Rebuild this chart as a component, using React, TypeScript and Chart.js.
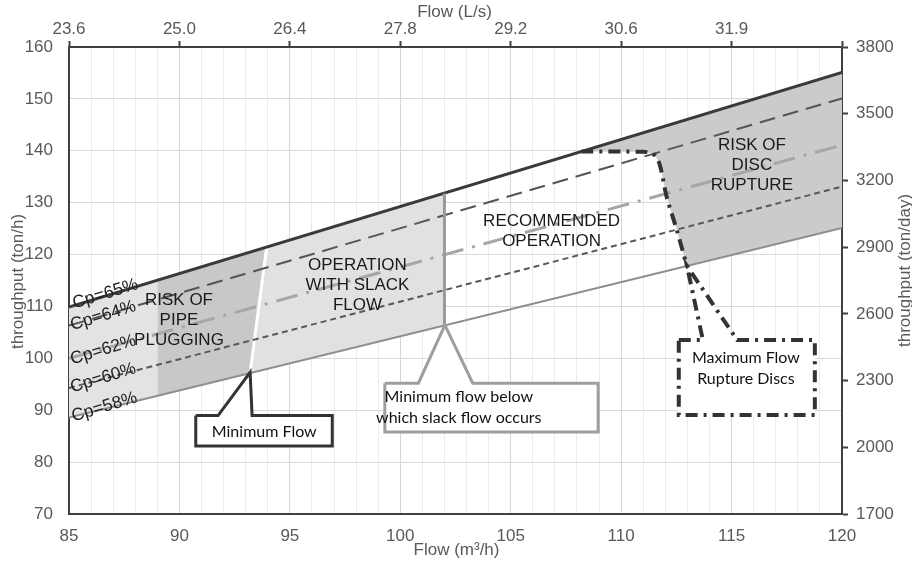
import React, { useEffect, useRef } from 'react';
import { Chart, registerables } from 'chart.js';

Chart.register(...registerables);

// ---- Axis ticks ----
const xTickLabels = [85, 90, 95, 100, 105, 110, 115, 120];
const topTickLabels = ['23.6', '25.0', '26.4', '27.8', '29.2', '30.6', '31.9', ''];

// ---- Cp lines (flow m3/h -> throughput t/h) ----
const flowRange = [85, 120];
const cp65 = [109.9, 155.1];
const cp64 = [106.3, 150.1];
const cp62 = [100.0, 141.1];
const cp60 = [94.3, 133.1];
const cp58 = [88.6, 125.1];

const cpLabels = ['Cp=65%', 'Cp=64%', 'Cp=62%', 'Cp=60%', 'Cp=58%'];
const cpLabelFlow = [86.65, 86.55, 86.55, 86.55, 86.6];
const cpLabelY = [112.4, 108.2, 101.6, 96.2, 90.6];

// ---- Boundaries ----
const minFlowX = [93.2, 93.95];
const minFlowY = [97.2, 121.4];
const slackX = [102, 102];
const slackY = [106.3, 131.8];
const ruptureX = [108.2, 111.0, 111.4, 111.65, 111.8, 112.06, 112.52, 112.97];
const ruptureY = [139.85, 139.8, 139.5, 138.4, 136.5, 131.15, 124.73, 117.9];

// ---- Shaded regions ----
const patchX = [85, 89, 89, 85];
const patchY = [88.6, 92.8, 115.0, 109.9];
const pluggingX = [89, 93.2, 93.95, 89];
const pluggingY = [92.8, 97.2, 121.4, 115.0];
const slackRegX = [93.2, 102, 102, 93.95];
const slackRegY = [97.2, 106.3, 131.8, 121.4];
const ruptRegX = [108.2, 120, 120, 112.97, 112.52, 112.06, 111.8, 111.65, 111.4, 111.0];
const ruptRegY = [139.85, 155.1, 125.1, 117.9, 124.73, 131.15, 136.5, 138.4, 139.5, 139.8];

// ---- Callouts ----
const minCalloutX = [90.74, 91.75, 93.2, 93.29, 96.92, 96.92, 90.74];
const minCalloutY = [88.96, 88.96, 97.3, 88.96, 88.96, 83.1, 83.1];
const slackCalloutX = [99.3, 100.82, 102.02, 103.28, 108.96, 108.96, 99.3];
const slackCalloutY = [95.2, 95.2, 106.4, 95.2, 95.2, 85.8, 85.8];
const ruptCalloutX = [112.61, 113.7, 112.98, 115.25, 118.77, 118.77, 112.61];
const ruptCalloutY = [103.55, 103.55, 117.8, 103.55, 103.55, 89.1, 89.1];

const calloutTexts = [
  ['Minimum Flow'],
  ['Minimum flow below', 'which slack flow occurs'],
  ['Maximum Flow', 'Rupture Discs'],
];
const calloutTextFlow = [93.84, 102.65, 115.65];
const calloutTextY = [85.9, 90.55, 98.0];

// ---- Region labels ----
const regionLabels = [
  ['RISK OF', 'PIPE', 'PLUGGING'],
  ['OPERATION', 'WITH SLACK', 'FLOW'],
  ['RECOMMENDED', 'OPERATION'],
  ['RISK OF', 'DISC', 'RUPTURE'],
];
const regionLabelFlow = [89.98, 98.06, 106.85, 115.92];
const regionLabelY = [107.4, 114.0, 124.4, 137.2];

const FONT = '"Liberation Sans", Arial, sans-serif';
const AXIS_COLOR = '#595959';

function pts(xs: number[], ys: number[], close = false) {
  const d = xs.map((x, i) => ({ x, y: ys[i] }));
  if (close) d.push({ ...d[0] });
  return d;
}

const base = { pointRadius: 0, pointHoverRadius: 0, tension: 0, xAxisID: 'x', yAxisID: 'y' };

function region(xs: number[], ys: number[], color: string, order: number) {
  return {
    ...base,
    data: pts(xs, ys, true),
    fill: 'shape',
    backgroundColor: color,
    borderColor: 'rgba(0,0,0,0)',
    borderWidth: 0,
    order,
  };
}

function line(xs: number[], ys: number[], color: string, width: number, dash: number[], order: number) {
  return {
    ...base,
    data: pts(xs, ys),
    fill: false,
    borderColor: color,
    borderWidth: width,
    borderDash: dash,
    borderCapStyle: 'butt',
    order,
  };
}

function callout(xs: number[], ys: number[], color: string, width: number, dash: number[]) {
  return {
    ...base,
    data: pts(xs, ys, true),
    fill: 'shape',
    backgroundColor: '#ffffff',
    borderColor: color,
    borderWidth: width,
    borderDash: dash,
    borderJoinStyle: 'miter',
    order: 0,
  };
}

const textPlugin = {
  id: 'textPlugin',
  afterDatasetsDraw(chart: any) {
    const { ctx, scales } = chart;
    const px = (v: number) => scales.x.getPixelForValue(v);
    const py = (v: number) => scales.y.getPixelForValue(v);
    ctx.save();
    ctx.textAlign = 'center';
    ctx.textBaseline = 'middle';
    ctx.fillStyle = '#1a1a1a';
    ctx.font = `17px ${FONT}`;
    regionLabels.forEach((lines, i) => {
      const cx = px(regionLabelFlow[i]);
      const cy = py(regionLabelY[i]);
      lines.forEach((t, j) => ctx.fillText(t, cx, cy + (j - (lines.length - 1) / 2) * 20));
    });
    ctx.fillStyle = '#222';
    ctx.font = `17.5px ${FONT}`;
    cpLabels.forEach((t, i) => {
      ctx.save();
      ctx.translate(px(cpLabelFlow[i]), py(cpLabelY[i]));
      ctx.rotate((-17 * Math.PI) / 180);
      ctx.fillText(t, 0, 0);
      ctx.restore();
    });
    ctx.fillStyle = '#111';
    ctx.font = `16px Lato, "Open Sans", sans-serif`;
    calloutTexts.forEach((lines, i) => {
      const cx = px(calloutTextFlow[i]);
      const cy = py(calloutTextY[i]);
      lines.forEach((t, j) => ctx.fillText(t, cx, cy + (j - (lines.length - 1) / 2) * 21));
    });
    ctx.restore();
  },
  afterDraw(chart: any) {
    const { ctx, chartArea } = chart;
    const { left, right, top, bottom } = chartArea;
    ctx.save();
    ctx.fillStyle = AXIS_COLOR;
    ctx.font = `17px ${FONT}`;
    ctx.textAlign = 'center';
    ctx.textBaseline = 'middle';
    ctx.fillText('Flow (m³/h)', (left + right) / 2 + 1, bottom + 36);
    ctx.fillText('Flow (L/s)', (left + right) / 2 - 1, top - 35);
    ctx.save();
    ctx.translate(left - 51, (top + bottom) / 2 + 1);
    ctx.rotate(-Math.PI / 2);
    ctx.fillText('throughput (ton/h)', 0, 0);
    ctx.restore();
    ctx.save();
    ctx.translate(right + 63, (top + bottom) / 2 - 10);
    ctx.rotate(-Math.PI / 2);
    ctx.fillText('throughput (ton/day)', 0, 0);
    ctx.restore();
    ctx.restore();
  },
};

const tickFont = { family: FONT, size: 17 };

export default function App() {
  const ref = useRef<HTMLCanvasElement>(null);
  useEffect(() => {
    if (!ref.current) return;
    const chart = new Chart(ref.current, {
      type: 'line',
      data: {
        datasets: [
          region(patchX, patchY, '#e3e3e3', 20),
          region(pluggingX, pluggingY, '#c8c8c8', 20),
          region(slackRegX, slackRegY, '#e1e1e1', 20),
          region(ruptRegX, ruptRegY, '#cbcbcb', 20),
          line(minFlowX, minFlowY, '#ffffff', 3, [], 8),
          line(flowRange, cp58, '#8e8e8e', 2, [], 5),
          line(flowRange, cp60, '#595959', 2, [6, 4], 5),
          line(flowRange, cp62, '#a6a6a6', 3, [22, 9, 3, 9], 5),
          line(flowRange, cp64, '#555555', 2, [16, 8], 5),
          line(flowRange, cp65, '#3a3a3a', 3, [], 5),
          line(slackX, slackY, '#9a9a9a', 3, [], 4),
          { ...line(ruptureX, ruptureY, '#333333', 4, [12, 6, 3, 6], 3), tension: 0.3 },
          callout(minCalloutX, minCalloutY, '#333333', 3, []),
          callout(slackCalloutX, slackCalloutY, '#9e9e9e', 3, []),
          callout(ruptCalloutX, ruptCalloutY, '#333333', 4, [12, 6, 3, 6]),
        ] as any,
      },
      options: {
        responsive: false,
        animation: false,
        events: [],
        layout: { padding: 0 },
        plugins: {
          legend: { display: false },
          tooltip: { enabled: false },
          title: { display: false },
        },
        scales: {
          x: {
            type: 'linear',
            position: 'bottom',
            min: 85,
            max: 120,
            afterFit: (s: any) => {
              s.height = 57;
            },
            ticks: {
              stepSize: 1,
              autoSkip: false,
              maxRotation: 0,
              maxTicksLimit: 100,
              padding: 12,
              font: tickFont,
              color: AXIS_COLOR,
              callback: (v: any) => (xTickLabels.includes(Number(v)) ? String(v) : ''),
            },
            grid: {
              drawTicks: false,
              color: (c: any) => (c.tick && c.tick.value % 5 === 0 ? '#d6d6d6' : '#ebebeb'),
              lineWidth: 1,
            },
            border: { color: '#404040', width: 2 },
          },
          x2: {
            type: 'linear',
            position: 'top',
            min: 85,
            max: 120,
            afterFit: (s: any) => {
              s.height = 47;
            },
            ticks: {
              stepSize: 5,
              autoSkip: false,
              maxRotation: 0,
              padding: 1,
              font: tickFont,
              color: AXIS_COLOR,
              callback: (_v: any, i: number) => topTickLabels[i] ?? '',
            },
            grid: {
              drawOnChartArea: false,
              drawTicks: true,
              tickLength: 6,
              tickColor: '#404040',
              tickWidth: 2,
            },
            border: { color: '#404040', width: 2 },
          },
          y: {
            type: 'linear',
            position: 'left',
            min: 70,
            max: 160,
            afterFit: (s: any) => {
              s.width = 69;
            },
            ticks: {
              stepSize: 10,
              padding: 16,
              font: tickFont,
              color: AXIS_COLOR,
              callback: (v: any) => String(v),
            },
            grid: { drawTicks: false, color: '#d9d9d9', lineWidth: 1 },
            border: { color: '#404040', width: 2 },
          },
          y2: {
            type: 'linear',
            position: 'right',
            min: 1700,
            max: 3800,
            afterFit: (s: any) => {
              s.width = 70;
            },
            ticks: {
              stepSize: 300,
              padding: 8,
              font: tickFont,
              color: AXIS_COLOR,
              callback: (v: any) => String(v),
            },
            grid: {
              drawOnChartArea: false,
              drawTicks: true,
              tickLength: 6,
              tickColor: '#404040',
              tickWidth: 2,
            },
            border: { color: '#404040', width: 2 },
          },
        },
      } as any,
      plugins: [textPlugin],
    });
    return () => chart.destroy();
  }, []);
  return (
    <div style={{ position: 'fixed', left: 0, top: 0, width: 912, height: 571, background: '#fff' }}>
      <canvas ref={ref} width={912} height={571} style={{ display: 'block', width: 912, height: 571 }} />
    </div>
  );
}
